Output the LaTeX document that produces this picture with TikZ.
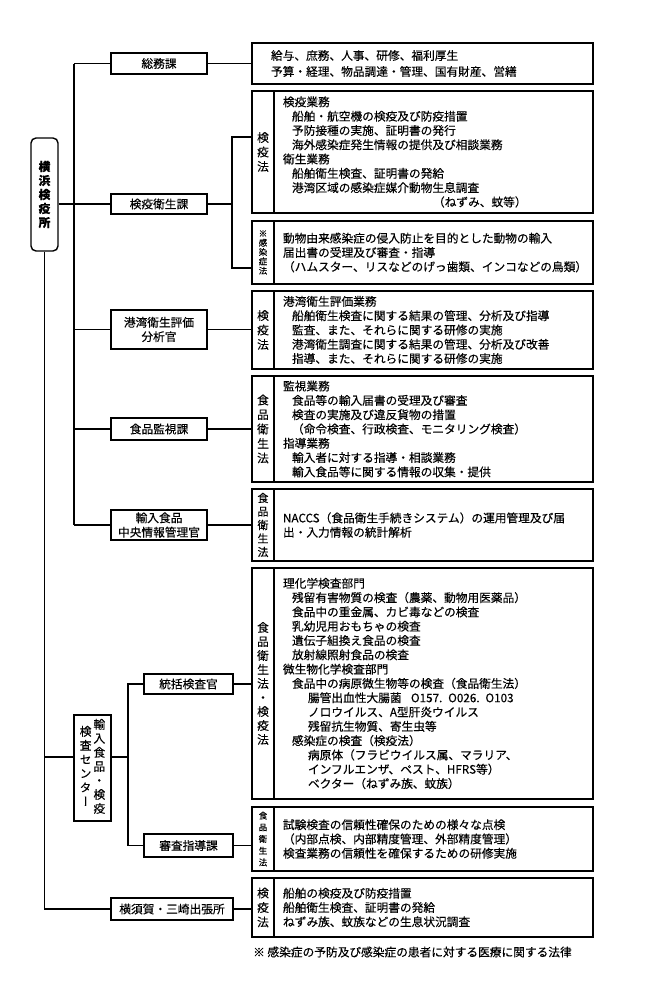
\documentclass[tikz,border=0pt]{standalone}
\usepackage{fontspec}
\setmainfont{Noto Sans CJK JP}[FakeBold=0.3]
\newfontfamily\vjp{Noto Sans CJK JP}[RawFeature=+vert, FakeBold=0.3]
\usepackage{tikz}

\tikzset{
    box/.style={draw, line width=1.4pt, inner sep=0pt, align=center},
    unit/.style={box, minimum width=96pt},
    lawcol/.style={box, minimum width=22pt, font=\fontsize{11.7}{14.5}\selectfont},
    dutycol/.style={box, minimum width=319pt, text width=301pt, inner xsep=9pt, align=left},
    conn/.style={line width=1.4pt},
}
\def\ia{\hspace*{9pt}}
\def\ib{\hspace*{25pt}}
% name, y, height, law style, law text, duties
\def\dutybox#1#2#3#4#5#6{%
    \node[lawcol, minimum height=#3, #4] (#1-law) at (263,#2) {#5};
    \node[dutycol, minimum height=#3] (#1) at (433.5,#2) {#6};
}

\begin{document}
\begin{tikzpicture}[x=1pt, y=-1pt, font=\fontsize{11.7}{14.3}\selectfont]
    \useasboundingbox (0,0) rectangle (648,997);

    % head office
    \node[box, rounded corners=5pt, minimum width=27pt, minimum height=113pt,
          font=\bfseries\fontsize{11.7}{14}\selectfont] (root) at (44.5,194.5) {横\\浜\\検\\疫\\所};

    % sections
    \node[unit, minimum height=21pt] (somu) at (159,63.5) {総務課};
    \node[unit, minimum height=20pt] (keneki) at (159,204) {検疫衛生課};
    \node[unit, minimum height=39pt] (kouwan) at (159,329.5) {港湾衛生評価\\分析官};
    \node[unit, minimum height=22pt] (kanshi) at (159,429) {食品監視課};
    \node[unit, minimum height=30pt] (jouhou) at (159,525) {輸入食品\\中央情報管理官};
    \node[box, minimum width=37pt, minimum height=106pt, font=\vjp\fontsize{11.7}{14}\selectfont] (center) at (92.5,768)
        {\begin{tabular}[c]{@{}c@{}}検\\査\\セ\\ン\\タ\\ー\end{tabular}\hspace{2pt}%
         \begin{tabular}[c]{@{}c@{}}輸\\入\\食\\品\\・\\検\\疫\end{tabular}};
    \node[unit, minimum width=89pt, minimum height=20pt] (toukatsu) at (188.5,684) {統括検査官};
    \node[unit, minimum width=89pt, minimum height=23pt] (shinsa) at (188.5,845.5) {審査指導課};
    \node[unit, minimum width=122pt, minimum height=22pt] (yokosuka) at (172,909) {横須賀・三崎出張所};

    % duties
    \node[box, minimum width=341pt, minimum height=41pt, text width=303pt, inner xsep=19pt, align=left,
          font=\fontsize{11.7}{16}\selectfont] (somuduty) at (422.5,63.5)
        {給与、庶務、人事、研修、福利厚生\\
         予算・経理、物品調達・管理、国有財産、営繕};
    \dutybox{b1}{152}{122pt}{}{検\\疫\\法}{%
        検疫業務\\
        \ia 船舶・航空機の検疫及び防疫措置\\
        \ia 予防接種の実施、証明書の発行\\
        \ia 海外感染症発生情報の提供及び相談業務\\
        衛生業務\\
        \ia 船舶衛生検査、証明書の発給\\
        \ia 港湾区域の感染症媒介動物生息調査\\
        \hspace*{150pt}（ねずみ、蚊等）}
    \dutybox{b2}{252.5}{63pt}{font=\fontsize{8.5}{9.3}\selectfont}{※\\感\\染\\症\\法}{%
        動物由来感染症の侵入防止を目的とした動物の輸入\\
        届出書の受理及び審査・指導\\
        （ハムスター、リスなどのげっ歯類、インコなどの鳥類）}
    \dutybox{b3}{330}{78pt}{}{検\\疫\\法}{%
        港湾衛生評価業務\\
        \ia 船舶衛生検査に関する結果の管理、分析及び指導\\
        \ia 監査、また、それらに関する研修の実施\\
        \ia 港湾衛生調査に関する結果の管理、分析及び改善\\
        \ia 指導、また、それらに関する研修の実施}
    \dutybox{b4}{429}{106pt}{}{食\\品\\衛\\生\\法}{%
        監視業務\\
        \ia 食品等の輸入届書の受理及び審査\\
        \ia 検査の実施及び違反貨物の措置\\
        \ia （命令検査、行政検査、モニタリング検査）\\
        指導業務\\
        \ia 輸入者に対する指導・相談業務\\
        \ia 輸入食品等に関する情報の収集・提供}
    \dutybox{b5}{525}{72pt}{font=\fontsize{11}{13.5}\selectfont}{食\\品\\衛\\生\\法}{%
        NACCS（食品衛生手続きシステム）の運用管理及び届\\
        出・入力情報の統計解析}
    \dutybox{b6}{683.5}{231pt}{font=\fontsize{11.7}{14}\selectfont}{食\\品\\衛\\生\\法\\・\\検\\疫\\法}{%
        理化学検査部門\\
        \ia 残留有害物質の検査（農薬、動物用医薬品）\\
        \ia 食品中の重金属、カビ毒などの検査\\
        \ia 乳幼児用おもちゃの検査\\
        \ia 遺伝子組換え食品の検査\\
        \ia 放射線照射食品の検査\\
        微生物化学検査部門\\
        \ia 食品中の病原微生物等の検査（食品衛生法）\\
        \ib 腸管出血性大腸菌\hspace{0.8em}O157. O026. O103\\
        \ib ノロウイルス、A型肝炎ウイルス\\
        \ib 残留抗生物質、寄生虫等\\
        \ia 感染症の検査（検疫法）\\
        \ib 病原体（フラビウイルス属、マラリア、\\
        \ib インフルエンザ、ペスト、HFRS等）\\
        \ib ベクター（ねずみ族、蚊族）}
    \dutybox{b7}{839}{64pt}{font=\fontsize{8.5}{11.7}\selectfont}{食\\品\\衛\\生\\法}{%
        試験検査の信頼性確保のための様々な点検\\
        （内部点検、内部精度管理、外部精度管理）\\
        検査業務の信頼性を確保するための研修実施}
    \dutybox{b8}{907.5}{59pt}{}{検\\疫\\法}{%
        船舶の検疫及び防疫措置\\
        船舶衛生検査、証明書の発給\\
        ねずみ族、蚊族などの生息状況調査}

    \node[anchor=west, inner sep=0pt] (note) at (253,952) {※ 感染症の予防及び感染症の患者に対する医療に関する法律};

    % connectors
    \coordinate (bus) at (74,0);
    \coordinate (kbus) at (232,0);
    \coordinate (cbus) at (128,0);
    \draw[conn] (keneki.west -| root.east) -- (keneki.west);
    \draw[conn] (somu.west -| bus) -- (jouhou.west -| bus);
    \foreach \dept in {somu,kouwan,kanshi,jouhou}
        \draw[conn] (\dept.west -| bus) -- (\dept.west);
    \draw[conn] (root.south) |- (yokosuka.west);
    \draw[conn] ([yshift=11pt]center.west -| root.south) -- ([yshift=11pt]center.west);
    \draw[conn] ([yshift=11pt]center.east) -- ([yshift=11pt]center.east -| cbus);
    \draw[conn] (toukatsu.west) -- (toukatsu.west -| cbus) |- (shinsa.west);
    \draw[conn] (somu.east) -- (somuduty.west);
    \draw[conn] (keneki.east) -- (keneki.east -| kbus);
    \draw[conn] ([yshift=15pt]b1-law.west) -- ([yshift=15pt]b1-law.west -| kbus)
        -- ([yshift=-15.5pt]b2-law.west -| kbus) -- ([yshift=-15.5pt]b2-law.west);
    \foreach \dept/\duty in {kouwan/b3, kanshi/b4, jouhou/b5, toukatsu/b6, shinsa/b7, yokosuka/b8}
        \draw[conn] (\dept.east) -- (\dept.east -| \duty-law.west);
\end{tikzpicture}
\end{document}
